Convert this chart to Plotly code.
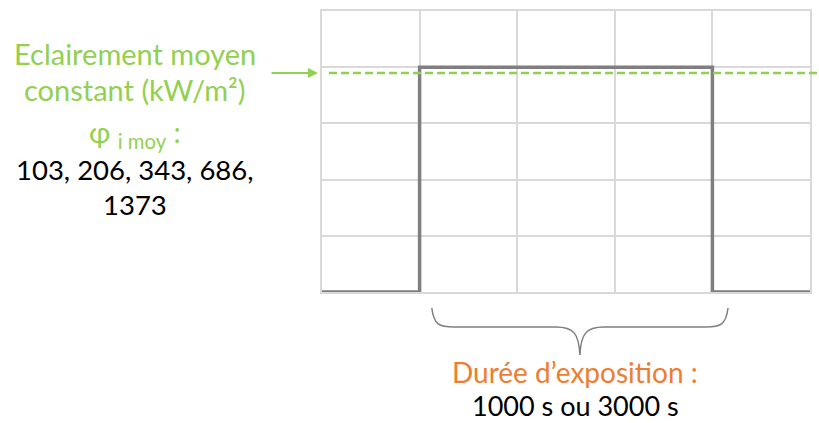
import plotly.graph_objects as go

# ---- data ----
step_x = [0, 1, 1, 4, 4, 5]
step_y = [0, 0, 4, 4, 0, 0]
mean_level = 3.95          # dashed "éclairement moyen constant" level
x_range = [0, 5]
y_range = [0, 5]
brace_x = [1.125, 4.16]    # extent of the exposure brace (data x)
flux_values = ["103", "206", "343", "686", "1373"]

GREEN = "#92D050"
ORANGE = "#ED7D31"
GRAY = "#7F7F7F"
GRID = "#D9D9D9"
FONT = "Lato"

W, H = 819, 423
L, R, T, B = 322, 9, 11, 131
pw, ph = W - L - R, H - T - B


def px_x(xd):
    return (xd - x_range[0]) / (x_range[1] - x_range[0])


fig = go.Figure()
fig.add_trace(go.Scatter(x=step_x, y=step_y, mode="lines",
                         line=dict(color=GRAY, width=3.5),
                         cliponaxis=False, hoverinfo="skip"))

# dashed mean level (extends slightly beyond the plot like the original)
ylev = (mean_level - y_range[0]) / (y_range[1] - y_range[0])
shapes = [dict(type="line", xref="paper", yref="paper",
               x0=7 / pw, x1=(W - L) / pw, y0=ylev - 3 / ph, y1=ylev - 3 / ph,
               line=dict(color=GREEN, width=2.5, dash="8px,4px"))]

# curly brace under the plateau
bx0, bx1 = px_x(brace_x[0]), px_x(brace_x[1])
bxm = (bx0 + bx1) / 2
def py(p):  # pixels below plot bottom -> paper
    return -p / ph
def dx(p):
    return p / pw
top, mid, tip = py(16), py(35), py(63)
path = (f"M {bx0},{top} C {bx0+dx(2)},{py(33)} {bx0+dx(8)},{mid} {bx0+dx(22)},{mid} "
        f"L {bxm-dx(24)},{mid} C {bxm-dx(6)},{mid} {bxm-dx(1)},{py(42)} {bxm},{tip} "
        f"C {bxm+dx(1)},{py(42)} {bxm+dx(6)},{mid} {bxm+dx(24)},{mid} "
        f"L {bx1-dx(22)},{mid} C {bx1-dx(8)},{mid} {bx1-dx(2)},{py(33)} {bx1},{top}")
shapes.append(dict(type="path", xref="paper", yref="paper", path=path,
                   line=dict(color=GRAY, width=1.5)))

ann = []
# arrow pointing to the mean level
ann.append(dict(xref="paper", yref="paper", x=-4 / pw, y=ylev - 3 / ph,
                ax=-48, ay=0, showarrow=True, arrowhead=2, arrowsize=1,
                arrowwidth=2, arrowcolor=GREEN, text=""))


def txt(text, cx, cy, color, size):
    ann.append(dict(xref="paper", yref="paper",
                    x=(cx - L) / pw, y=(H - B - cy) / ph,
                    xanchor="center", yanchor="middle", showarrow=False,
                    text=text, font=dict(family=FONT, size=size, color=color)))


txt("Eclairement moyen", 135, 54, GREEN, 29)
txt("constant (kW/m²)", 135, 89, GREEN, 29)
txt("φ <sub>i moy</sub> :", 135, 133, GREEN, 29)
txt(", ".join(flux_values[:4]) + ",", 135, 169, "black", 27.5)
txt(flux_values[4], 135, 204, "black", 27.5)
txt("Durée d’exposition :", 575, 372, ORANGE, 28)
txt("1000 s ou 3000 s", 575, 405, "black", 27)

fig.update_layout(
    width=W, height=H, margin=dict(l=L, r=R, t=T, b=B, autoexpand=False),
    paper_bgcolor="white", plot_bgcolor="white", showlegend=False,
    shapes=shapes, annotations=ann,
    xaxis=dict(range=x_range, dtick=1, tick0=0, showgrid=True, gridcolor=GRID,
               gridwidth=1.5, zeroline=False, showticklabels=False, ticks="",
               showline=True, mirror=True, linecolor=GRID, linewidth=1.5),
    yaxis=dict(range=y_range, dtick=1, tick0=0, showgrid=True, gridcolor=GRID,
               gridwidth=1.5, zeroline=False, showticklabels=False, ticks="",
               showline=True, mirror=True, linecolor=GRID, linewidth=1.5),
)
fig.write_html("out.html", config={"displayModeBar": False},
               post_script="document.body.style.margin='0';document.body.style.overflow='hidden';")
